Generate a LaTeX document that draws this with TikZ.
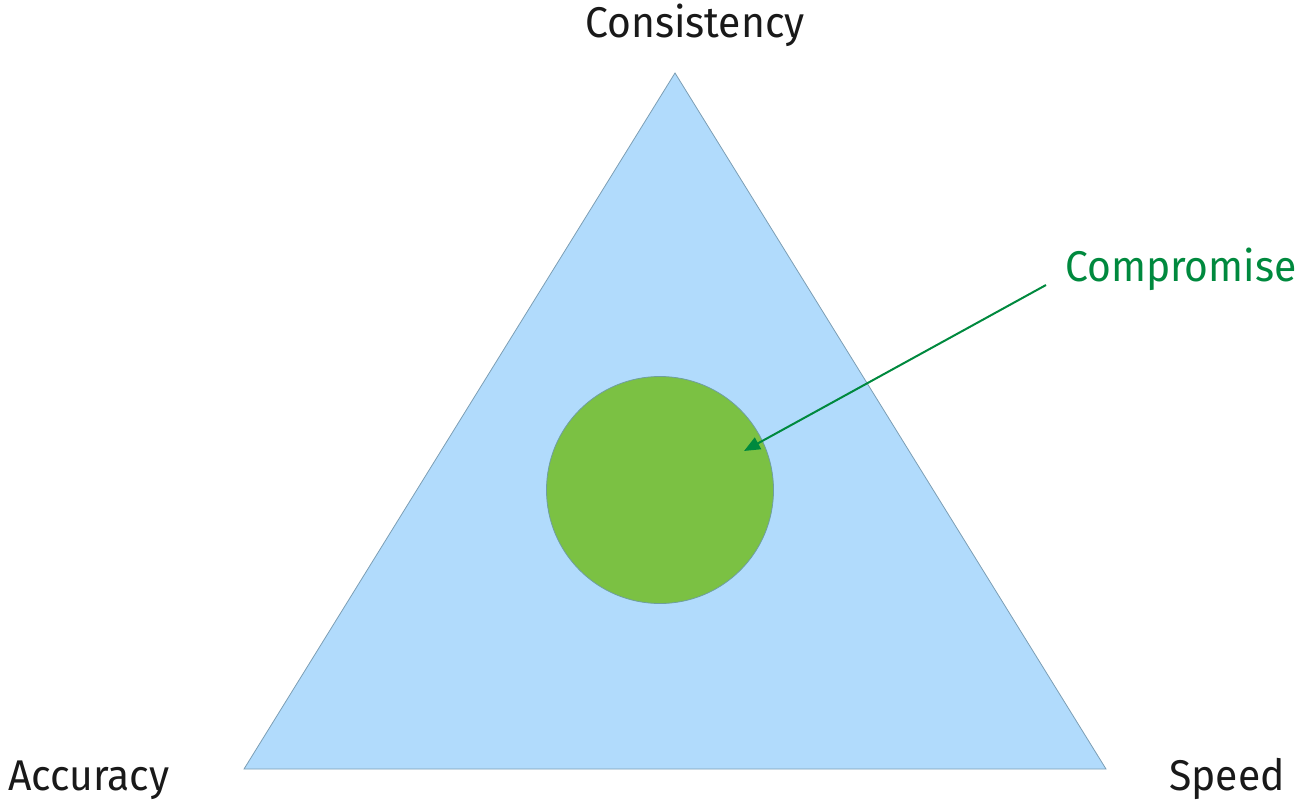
\documentclass[tikz,border=0pt]{standalone}
\usepackage{fontspec}
\setmainfont{Fira Sans}[FakeStretch=0.95]
\usepackage{tikz}
\usetikzlibrary{arrows.meta,positioning}
\definecolor{skyfill}{HTML}{B1DBFC}
\definecolor{skyline}{HTML}{7C9EB4}
\definecolor{leaffill}{HTML}{7BC143}
\definecolor{leafline}{HTML}{6E9FA0}
\definecolor{mossgreen}{HTML}{00893E}

\begin{document}
\begin{tikzpicture}[
  x=1pt, y=-1pt,
  font=\fontsize{43}{48}\selectfont,
  corner/.style={inner sep=0pt, text=black!90},
  zone/.style={draw=skyline, fill=skyfill, line width=0.8pt},
  blob/.style={circle, draw=leafline, fill=leaffill, line width=0.8pt, minimum size=227pt, inner sep=0pt},
  arr/.style={-{Triangle[length=16pt, width=13pt]}, line width=2pt, mossgreen}
]
\useasboundingbox (0,0) rectangle (1295,803);
% triangle
\coordinate (top) at (675,73);
\coordinate (left) at (244,769);
\coordinate (right) at (1106,769);
\draw[zone] (top) -- (right) -- (left) -- cycle;
% middle circle
\node[blob] (comp) at (660,490) {};
% labels
\node[corner, anchor=base] (cons) at (695,37) {Consistency};
\node[corner, anchor=base west] (acc) at (8,790) {Accuracy};
\node[corner, anchor=base east] (speed) at (1285,790) {Speed};
\node[corner, anchor=base west, text=mossgreen] (complab) at (1065,281) {Compromise};
% arrow
\coordinate (tail) at (1046,285);
\coordinate (tip) at (744,451);
\draw[arr] (tail) -- (tip);
\end{tikzpicture}
\end{document}
